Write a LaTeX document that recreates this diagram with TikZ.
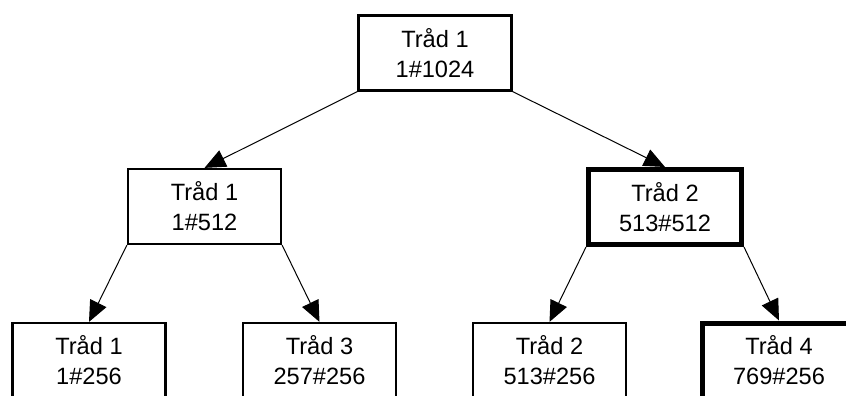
\documentclass[tikz,border=0pt]{standalone}
\usepackage{fontspec}
\setmainfont{Liberation Sans}
\usetikzlibrary{arrows.meta}
\tikzset{
  task/.style={draw,line width=1.1pt,minimum width=76.5pt,minimum height=37.5pt,
    align=center,font=\fontsize{11.8}{15}\selectfont},
  busy/.style={task,line width=2.5pt},
  split/.style={line width=0.5pt,-{Triangle[length=10.5pt,width=9pt]}}
}
\begin{document}
\begin{tikzpicture}[x=0.5pt,y=-0.5pt]
	\useasboundingbox (0,0) rectangle (846,396);
	% the root
	\node[task] (root) at (435,53) {Tråd 1\\1\#1024};
	% first split
	\node[task] (l) at (204.5,206.5) {Tråd 1\\1\#512};
	\node[busy] (r) at (665,207) {Tråd 2\\513\#512};
	% second split
	\node[task] (ll) at (89,360.5) {Tråd 1\\1\#256};
	\node[task] (lr) at (319.5,360.5) {Tråd 3\\257\#256};
	\node[task] (rl) at (549.5,360.5) {Tråd 2\\513\#256};
	\node[busy] (rr) at (779,360.5) {Tråd 4\\769\#256};
	% arrows from the corners
	\draw[split] (root.south west) -- (l.north);
	\draw[split] (root.south east) -- (r.north);
	\draw[split] (l.south west) -- (ll.north);
	\draw[split] (l.south east) -- (lr.north);
	\draw[split] (r.south west) -- (rl.north);
	\draw[split] (r.south east) -- (rr.north);
\end{tikzpicture}
\end{document}
